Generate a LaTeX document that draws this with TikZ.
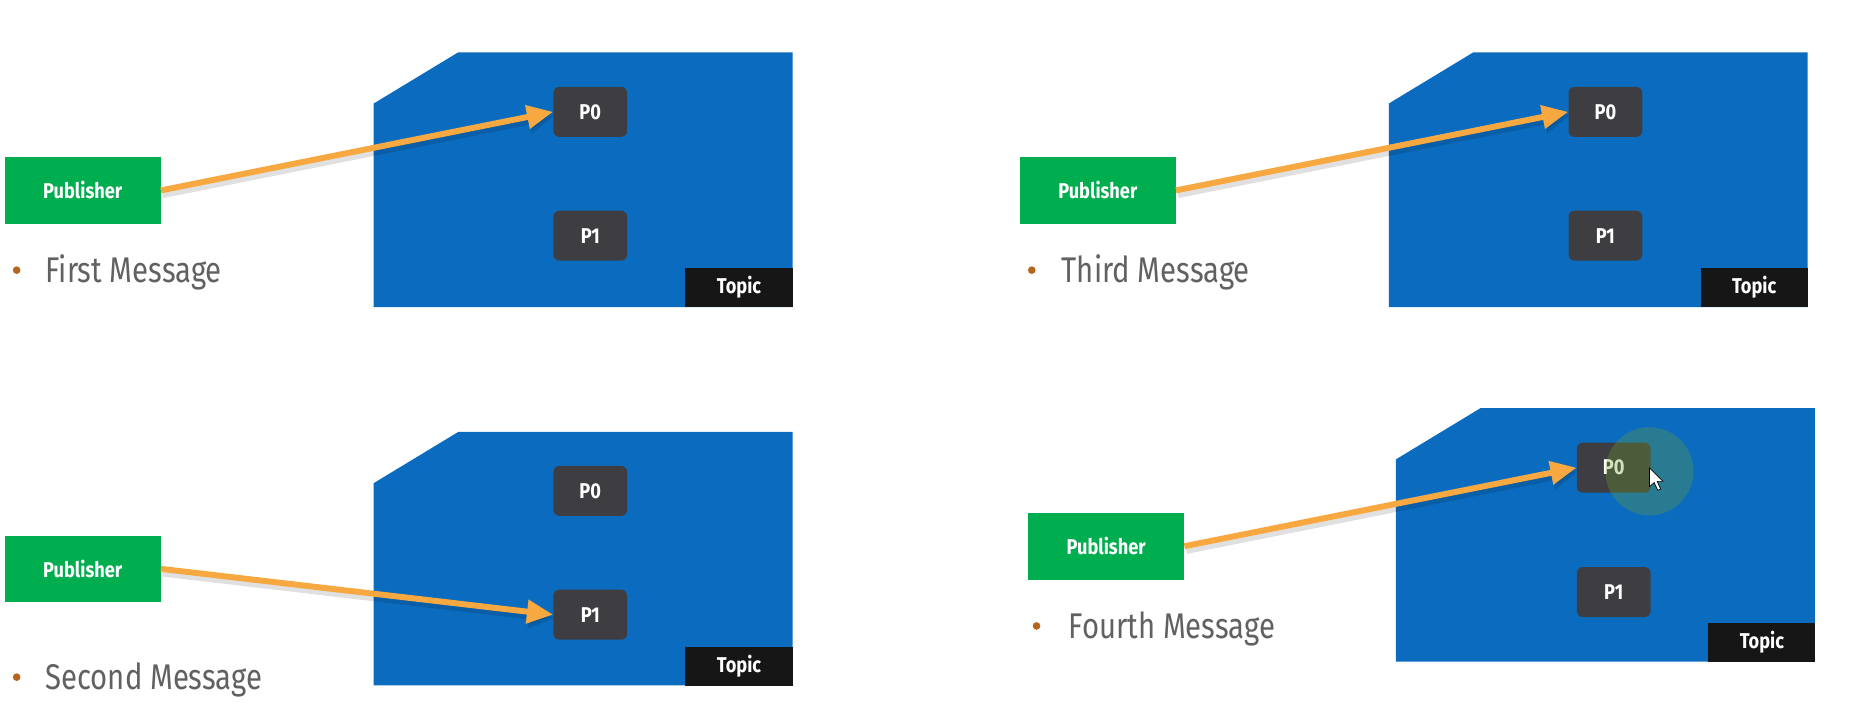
\documentclass[tikz,border=0pt]{standalone}
\usepackage{fontspec}
\usetikzlibrary{arrows.meta}
\newfontfamily\boxfont[FakeStretch=0.85]{Fira Sans}
\newfontfamily\msgfont[FakeStretch=0.82]{Fira Sans}
\definecolor{topicblue}{HTML}{0B6CBF}
\definecolor{pubgreen}{HTML}{00AD4F}
\definecolor{partgray}{HTML}{3E3E42}
\definecolor{topicblack}{HTML}{161616}
\definecolor{arroworange}{HTML}{F8A841}
\definecolor{msggray}{HTML}{616161}
\definecolor{bulletbrown}{HTML}{B5651D}
\definecolor{hilite}{RGB}{110,160,40}
\tikzset{
  boxtext/.style={text=white, inner sep=0pt, font=\boxfont\bfseries\fontsize{18}{20}\selectfont},
  pubbox/.style={boxtext, fill=pubgreen, minimum width=131pt, minimum height=56pt},
  partbox/.style={boxtext, fill=partgray, rounded corners=5pt, minimum width=62pt, minimum height=42pt},
  topicbox/.style={boxtext, fill=topicblack, minimum width=90pt, minimum height=33pt},
  topicshape/.style={fill=topicblue},
  msg/.style={anchor=base west, inner sep=0pt, text=msggray, font=\msgfont\fontsize{30}{34}\selectfont},
  bulletdot/.style={fill=bulletbrown, draw=none},
  sendarrow/.style={draw=arroworange, line width=5pt, -{Triangle[length=22pt,width=19pt]}},
  sendshadow/.style={draw=black, opacity=0.12, line width=7pt, -{Triangle[length=22pt,width=21pt]},
    transform canvas={shift={(1.5pt,-3pt)}}},
  highlight/.style={fill=hilite, opacity=0.3, draw=none},
  cursor/.style={fill=white, draw=black, line width=0.6pt, line join=round}
}
\begin{document}
\begin{tikzpicture}[x=1pt,y=-1pt]
\useasboundingbox[fill=white] (0,0) rectangle (1568,594);

% ---------- Panel 1: First Message ----------
\fill[topicshape] (314,87) -- (385,44) -- (666,44) -- (666,258) -- (314,258) -- cycle;
\node[pubbox] (a-pub) at (69.5,160) {Publisher};
\node[partbox] (a-p0) at (496,94) {P0};
\node[partbox] (a-p1) at (496,198) {P1};
\node[topicbox] (a-topic) at (621,241.5) {Topic};
\fill[bulletdot] (14,227) circle (3.2);
\node[msg] (a-msg) at (38,237.5) {First Message};
\draw[sendshadow] (a-pub.east) -- (a-p0.west);
\draw[sendarrow] (a-pub.east) -- (a-p0.west);

% ---------- Panel 2: Third Message ----------
\fill[topicshape] (1167,87) -- (1238,44) -- (1519,44) -- (1519,258) -- (1167,258) -- cycle;
\node[pubbox] (b-pub) at (922.5,160) {Publisher};
\node[partbox] (b-p0) at (1349,94) {P0};
\node[partbox] (b-p1) at (1349,198) {P1};
\node[topicbox] (b-topic) at (1474,241.5) {Topic};
\fill[bulletdot] (867,227) circle (3.2);
\node[msg] (b-msg) at (892,237.5) {Third Message};
\draw[sendshadow] (b-pub.east) -- (b-p0.west);
\draw[sendarrow] (b-pub.east) -- (b-p0.west);

% ---------- Panel 3: Second Message ----------
\fill[topicshape] (314,406) -- (385,363) -- (666,363) -- (666,576) -- (314,576) -- cycle;
\node[pubbox] (c-pub) at (69.5,478) {Publisher};
\node[partbox] (c-p0) at (496,412.5) {P0};
\node[partbox] (c-p1) at (496,516.5) {P1};
\node[topicbox] (c-topic) at (621,560) {Topic};
\fill[bulletdot] (14,569) circle (3.2);
\node[msg] (c-msg) at (38,579.5) {Second Message};
\draw[sendshadow] (c-pub.east) -- (c-p1.west);
\draw[sendarrow] (c-pub.east) -- (c-p1.west);

% ---------- Panel 4: Fourth Message ----------
\fill[topicshape] (1173,386) -- (1244,343) -- (1525,343) -- (1525,556) -- (1173,556) -- cycle;
\node[pubbox] (d-pub) at (929.5,459) {Publisher};
\node[partbox] (d-p0) at (1356,393) {P0};
\node[partbox] (d-p1) at (1356,497.5) {P1};
\node[topicbox] (d-topic) at (1480.5,540) {Topic};
\fill[bulletdot] (871,526) circle (3.2);
\node[msg] (d-msg) at (898,536.5) {Fourth Message};
\draw[sendshadow] (d-pub.east) -- (d-p0.west);
\draw[sendarrow] (d-pub.east) -- (d-p0.west);
\fill[highlight] (1386,396) circle (37);
\draw[cursor] (1386,393) -- (1386,409) -- (1390,405.5) -- (1393,412) -- (1395.5,411) -- (1392.5,404.5) -- (1397.5,404.5) -- cycle;
\end{tikzpicture}
\end{document}
